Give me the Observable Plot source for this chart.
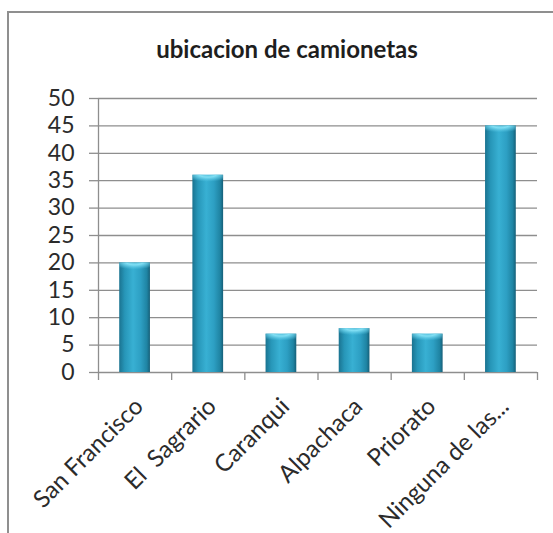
<!DOCTYPE html>
<html>
<head>
<meta charset="utf-8">
<script src="https://cdn.jsdelivr.net/npm/d3@7"></script>
<script src="https://cdn.jsdelivr.net/npm/@observablehq/plot@0.6"></script>
<style>
  html, body { margin: 0; padding: 0; background: #fff; overflow: hidden; }
  #wrap { position: relative; width: 553px; height: 533px; }
  #border { position: absolute; left: 7px; top: 11px; width: 600px; height: 600px;
            border-left: 2px solid #8f8f8f; border-top: 2px solid #8f8f8f; }
  #title { position: absolute; left: 0; top: 37px; width: 574px; text-align: center;
           font: bold 24px Lato, "Open Sans", sans-serif; line-height: 24px; color: #1e1e1e; }
  #chart { position: absolute; left: 0; top: 0; }
  svg text { white-space: pre; }
</style>
</head>
<body>
<div id="wrap">
  <div id="border"></div>
  <div id="title">ubicacion de camionetas</div>
  <div id="chart"></div>
</div>
<script>
// Trucks by location
const categories = ["San Francisco", "El  Sagrario", "Caranqui", "Alpachaca", "Priorato", "Ninguna de las..."];
const values = [20, 36, 7, 8, 7, 45];
const yTicks = [0, 5, 10, 15, 20, 25, 30, 35, 40, 45, 50];

const rows = categories.map((name, i) => ({name, i, value: values[i]}));
const boundaries = d3.range(categories.length + 1);
const gridColor = "#8e8e8e";

// Cylinder-like shading for the columns
const gradients = () => {
  const ns = "http://www.w3.org/2000/svg";
  const defs = document.createElementNS(ns, "defs");
  defs.innerHTML = `
    <linearGradient id="barGrad" x1="0" y1="0" x2="1" y2="0">
      <stop offset="0" stop-color="#1a7390"/>
      <stop offset="0.18" stop-color="#2796b8"/>
      <stop offset="0.45" stop-color="#38b0d3"/>
      <stop offset="0.7" stop-color="#2d9fc3"/>
      <stop offset="0.9" stop-color="#1f84a3"/>
      <stop offset="1" stop-color="#165f78"/>
    </linearGradient>
    <radialGradient id="capGrad" cx="0.5" cy="0" r="0.75" fx="0.5" fy="0">
      <stop offset="0" stop-color="#8fe6f7" stop-opacity="0.3"/>
      <stop offset="0.35" stop-color="#80def3" stop-opacity="1"/>
      <stop offset="1" stop-color="#5ccbe8" stop-opacity="0"/>
    </radialGradient>`;
  return defs;
};

const chart = Plot.plot({
  width: 553,
  height: 533,
  marginLeft: 98,
  marginRight: 16,
  marginTop: 98,
  marginBottom: 161,
  x: {domain: [0, categories.length], axis: null},
  y: {domain: [0, 50], axis: null, label: null},
  style: {fontFamily: "Lato, 'Open Sans', sans-serif", background: "transparent", color: "#333"},
  marks: [
    gradients,
    Plot.gridY(yTicks, {stroke: gridColor, strokeOpacity: 1, strokeWidth: 1.3}),
    Plot.axisY(yTicks, {tickSize: 9, tickPadding: 15, fontSize: 23, stroke: gridColor, strokeWidth: 1.3, fill: "#2b2b2b", label: null}),
    Plot.ruleX([0], {stroke: gridColor, strokeWidth: 1.3}),
    Plot.axisX(boundaries, {tickSize: 8, tickFormat: () => "", stroke: gridColor, strokeWidth: 1.3, label: null}),
    Plot.rectY(rows, {x1: d => d.i + 0.29, x2: d => d.i + 0.71, y: "value", fill: "url(#barGrad)"}),
    Plot.rectY(rows, {x1: d => d.i + 0.29, x2: d => d.i + 0.71, y1: d => d.value - 1.7, y2: "value", fill: "url(#capGrad)"}),
    Plot.text(rows, {
      x: d => d.i + 0.5, y: 0, text: "name",
      rotate: -45, textAnchor: "end", dx: 4, dy: 30,
      fontSize: 24, fill: "#2b2b2b"
    })
  ]
});

document.getElementById("chart").appendChild(chart);
</script>
</body>
</html>
